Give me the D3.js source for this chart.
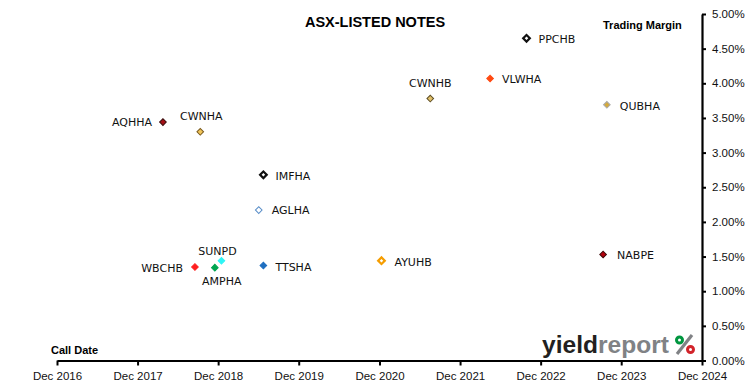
<!DOCTYPE html>
<html>
<head>
<meta charset="utf-8">
<script src="https://cdn.jsdelivr.net/npm/d3@7"></script>
<style>
  html, body { margin: 0; padding: 0; background: #fff; }
  svg { display: block; }
</style>
</head>
<body>
<svg id="chart" width="750" height="391"></svg>
<script>
// ---- data ----
const codes      = ["AQHHA", "CWNHA", "IMFHA", "AGLHA", "TTSHA", "WBCHB", "AMPHA", "SUNPD", "AYUHB", "CWNHB", "VLWHA", "PPCHB", "QUBHA", "NABPE"];
const callDates  = ["2018-03-26", "2018-09-11", "2019-06-24", "2019-06-03", "2019-06-24", "2018-08-18", "2018-11-16", "2018-12-16", "2020-12-10", "2021-07-19", "2022-04-16", "2022-09-28", "2023-09-27", "2023-09-10"];
const margins    = [3.44, 3.30, 2.68, 2.17, 1.37, 1.35, 1.34, 1.44, 1.44, 3.78, 4.07, 4.65, 3.69, 1.53];
const xTickDates = ["2016-12-01", "2017-12-01", "2018-12-01", "2019-12-01", "2020-12-01", "2021-12-01", "2022-12-01", "2023-12-01", "2024-12-01"];
const yTicks     = [0, 0.5, 1, 1.5, 2, 2.5, 3, 3.5, 4, 4.5, 5];

// ---- styles (not data) ----
const markerFill   = ["#a50f15", "#f2c65a", "#ffffff", "#ffffff", "#1f6fc0", "#ff1f1f", "#00a651", "#2ef5f5", "#ffffff", "#e2c06a", "#ff4a12", "#ffffff", "#d4aa3c", "#b3000c"];
const markerStroke = ["#3a0a0a", "#7a5a1e", "#111111", "#5b8fc9", "#1f6fc0", "#ff1f1f", "#00a651", "#2ef5f5", "#f59d00", "#5e4e24", "#ff4a12", "#111111", "#a8a8a8", "#3a0a0a"];
const markerWidth  = [1, 1, 2.2, 1, 1, 1, 1, 1, 2.2, 1, 1, 2.2, 1, 1];
// label placement: anchor, dx, dy relative to marker
const labelPlace = [
  ["end", -11, 0], ["middle", 1, -16], ["start", 12, 1], ["start", 13, 0], ["start", 12, 1],
  ["end", -12, 1], ["middle", 7, 13], ["middle", -4, -10], ["start", 13, 1], ["middle", 0, -16],
  ["start", 12, 1], ["start", 12, 1], ["start", 13, 1], ["start", 14, 1]
];

const parse = d3.timeParse("%Y-%m-%d");
const points = codes.map((c, i) => ({ code: c, date: parse(callDates[i]), m: margins[i], i }));

const svg = d3.select("#chart");
const margin = { left: 57, right: 48, top: 14, bottom: 30.5 };
const W = 750, H = 391;

const x = d3.scaleTime()
  .domain([parse(xTickDates[0]), parse(xTickDates[xTickDates.length - 1])])
  .range([margin.left, W - margin.right]);
const y = d3.scaleLinear().domain([0, 5]).range([H - margin.bottom, margin.top]);

// ---- x axis ----
const xAxis = d3.axisBottom(x)
  .tickValues(xTickDates.map(parse))
  .tickFormat(d3.timeFormat("Dec %Y"))
  .tickSize(5).tickSizeOuter(0).tickPadding(6);
const gx = svg.append("g").attr("transform", `translate(0,${y(0)})`).call(xAxis);
gx.select(".domain").attr("stroke", "#000").attr("stroke-width", 2.2);
gx.selectAll(".tick line").attr("stroke", "#000").attr("stroke-width", 2);
gx.selectAll(".tick text").attr("font-family", "Liberation Sans, Arial, sans-serif").attr("font-size", "11.5px").attr("fill", "#111");

// ---- y axis (right) ----
const yAxis = d3.axisRight(y)
  .tickValues(yTicks)
  .tickFormat(d => d.toFixed(2) + "%")
  .tickSize(4).tickSizeOuter(0).tickPadding(6);
const gy = svg.append("g").attr("transform", `translate(${x.range()[1]},0)`).call(yAxis);
gy.select(".domain").attr("stroke", "#000").attr("stroke-width", 2.2);
gy.selectAll(".tick line").attr("stroke", "#000").attr("stroke-width", 2);
gy.selectAll(".tick text").attr("font-family", "Liberation Sans, Arial, sans-serif").attr("font-size", "11.5px").attr("fill", "#111");

// ---- titles ----
svg.append("text").attr("x", 375).attr("y", 27).attr("text-anchor", "middle")
  .attr("font-family", "Liberation Sans, Arial, sans-serif").attr("font-weight", "bold").attr("font-size", "14.5px")
  .attr("fill", "#000").text("ASX-LISTED NOTES");
svg.append("text").attr("x", 603).attr("y", 29)
  .attr("font-family", "Liberation Sans, Arial, sans-serif").attr("font-weight", "bold").attr("font-size", "11px")
  .attr("fill", "#000").text("Trading Margin");
svg.append("text").attr("x", 51).attr("y", 354)
  .attr("font-family", "Liberation Sans, Arial, sans-serif").attr("font-weight", "bold").attr("font-size", "11px")
  .attr("fill", "#000").text("Call Date");

// ---- logo ----
const logo = svg.append("g");
const lt = logo.append("text").attr("x", 542).attr("y", 353)
  .attr("font-family", "Liberation Sans, Arial, sans-serif").attr("font-weight", "bold").attr("font-size", "24px")
  .attr("textLength", 127).attr("lengthAdjust", "spacingAndGlyphs");
lt.append("tspan").attr("fill", "#231f20").text("yield");
lt.append("tspan").attr("fill", "#808285").text("report");
logo.append("line").attr("x1", 677).attr("y1", 354).attr("x2", 692).attr("y2", 335)
  .attr("stroke", "#808285").attr("stroke-width", 3.2);
logo.append("circle").attr("cx", 679.5).attr("cy", 340).attr("r", 3).attr("fill", "none")
  .attr("stroke", "#00963f").attr("stroke-width", 3);
logo.append("circle").attr("cx", 690.5).attr("cy", 349.5).attr("r", 3).attr("fill", "none")
  .attr("stroke", "#d2232a").attr("stroke-width", 3);

// ---- markers ----
const sym = d3.symbol().type(d3.symbolSquare).size(22);
svg.append("g").selectAll("path").data(points).join("path")
  .attr("d", sym)
  .attr("transform", d => `translate(${x(d.date)},${y(d.m)}) rotate(45)`)
  .attr("fill", d => markerFill[d.i])
  .attr("stroke", d => markerStroke[d.i])
  .attr("stroke-width", d => markerWidth[d.i]);

// ---- labels ----
svg.append("g").selectAll("text").data(points).join("text")
  .attr("x", d => x(d.date) + labelPlace[d.i][1])
  .attr("y", d => y(d.m) + labelPlace[d.i][2])
  .attr("dy", "0.36em")
  .attr("text-anchor", d => labelPlace[d.i][0])
  .attr("font-family", "DejaVu Sans, Verdana, sans-serif").attr("font-size", "11px")
  .attr("fill", "#111")
  .text(d => d.code);
</script>
</body>
</html>
